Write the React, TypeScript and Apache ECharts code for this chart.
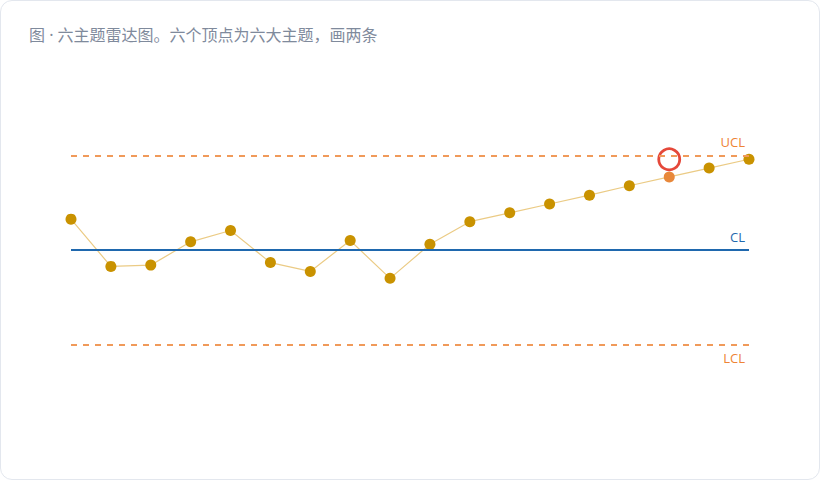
import React, { useEffect, useRef } from "react";
import * as echarts from "echarts";

const titleText = "图 · 六主题雷达图。六个顶点为六大主题，画两条";
const samples = ["1", "2", "3", "4", "5", "6", "7", "8", "9", "10", "11", "12", "13", "14", "15", "16", "17", "18"];
const values = [54.9, 47.4, 47.6, 51.3, 53.1, 48.0, 46.6, 51.5, 45.5, 50.9, 54.5, 55.9, 57.3, 58.7, 60.2, 61.6, 63.0, 64.4];
const flaggedIndex = 15;
const flagMarkValue = 64.4;
const ucl = 65;
const cl = 50;
const lcl = 35;

function App() {
  const chartRef = useRef<HTMLDivElement>(null);

  useEffect(() => {
    document.body.style.margin = "0";
    if (!chartRef.current) return;
    const chart = echarts.init(chartRef.current, null, { renderer: "svg" });

    const pointData = values.map((v, i) =>
      i === flaggedIndex ? { value: v, itemStyle: { color: "#E8883A" } } : v
    );
    const flagData = samples.map((_, i) => (i === flaggedIndex ? flagMarkValue : "-"));

    const options: echarts.EChartsOption = {
      animation: false,
      title: {
        text: titleText,
        left: 23,
        top: 21,
        textStyle: {
          fontSize: 16,
          fontWeight: "normal",
          color: "#7f8a9c",
          fontFamily: "'Noto Sans', 'Noto Sans CJK SC', sans-serif",
        },
      },
      grid: { left: 70, right: 70, top: 60, bottom: 40 },
      xAxis: {
        type: "category",
        data: samples,
        boundaryGap: false,
        show: false,
      },
      yAxis: {
        type: "value",
        min: 20,
        max: 80,
        show: false,
      },
      series: [
        {
          type: "line",
          data: pointData,
          symbol: "circle",
          symbolSize: 11,
          lineStyle: { color: "#EBCB85", width: 1.2 },
          itemStyle: { color: "#C99200" },
          z: 3,
          markLine: {
            silent: true,
            symbol: "none",
            label: {
              fontSize: 13,
              fontFamily: "'Open Sans', 'Noto Sans', sans-serif",
              distance: [4, 7],
            },
            data: [
              {
                yAxis: ucl,
                lineStyle: { color: "#F09A5A", type: [6, 6], width: 2 },
                label: { formatter: "UCL", position: "insideEndTop", color: "#EE8435" },
              },
              {
                yAxis: cl,
                lineStyle: { color: "#1F68AE", type: "solid", width: 2 },
                label: { formatter: "CL", position: "insideEndTop", color: "#1F68AE" },
              },
              {
                yAxis: lcl,
                lineStyle: { color: "#F09A5A", type: [6, 6], width: 2 },
                label: { formatter: "LCL", position: "insideEndBottom", color: "#EE8435" },
              },
            ],
          },
        },
        {
          type: "scatter",
          data: flagData,
          symbol: "circle",
          symbolSize: 21,
          itemStyle: {
            color: "rgba(0,0,0,0)",
            borderColor: "#E5483A",
            borderWidth: 2.8,
            opacity: 1,
          },
          z: 4,
          silent: true,
        },
      ],
    };
    chart.setOption(options);
    return () => {
      chart.dispose();
    };
  }, []);

  return (
    <div
      style={{
        width: 818,
        height: 478,
        border: "1px solid #e3e7ee",
        borderRadius: 12,
        background: "#fff",
        overflow: "hidden",
      }}
    >
      <div ref={chartRef} style={{ width: 818, height: 478 }} />
    </div>
  );
}

export default App;
